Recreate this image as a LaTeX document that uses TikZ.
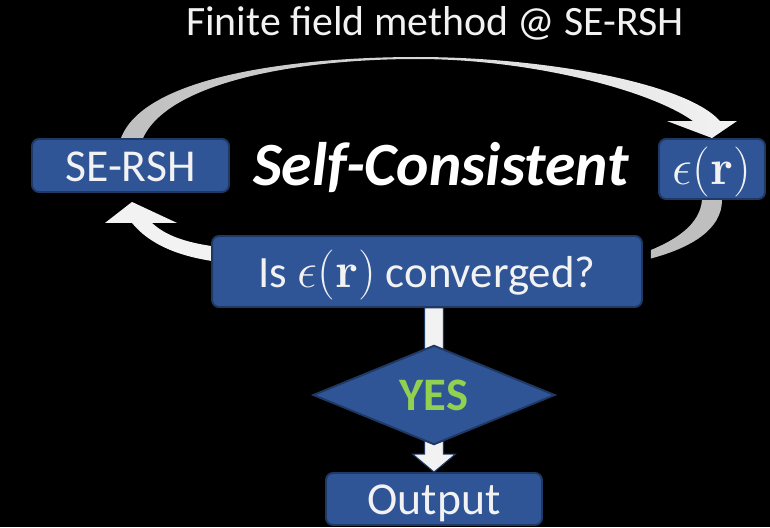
\documentclass[tikz,border=0pt]{standalone}
\usepackage[no-math]{fontspec}
\usepackage{graphicx}
\setmainfont{Carlito}
\usetikzlibrary{shapes.geometric,calc}
\definecolor{boxblue}{HTML}{2F5597}
\definecolor{boxline}{HTML}{1F3864}
\definecolor{textwhite}{HTML}{F2F2F2}
\definecolor{yesgreen}{HTML}{92D050}
\definecolor{arcgray}{HTML}{BFBFBF}
\pgfdeclarelayer{bg}
\pgfdeclarelayer{back}
\pgfsetlayers{bg,back,main}
\newcommand{\epsr}{{\fontsize{24.88}{30}\selectfont\scalebox{1.145}{$\epsilon(\mathbf{r})$}}}
\begin{document}
\begin{tikzpicture}[x=0.02cm, y=-0.02cm, line join=round,
		box/.style={draw=boxline, line width=1.1pt, fill=boxblue, rounded corners=0.14cm, inner sep=0pt, text=textwhite, text height=20pt, text depth=2pt},
		big/.style={font=\fontsize{26}{30}\selectfont}]
		\path
		(130.5,165.5) coordinate (S)
		(712,169) coordinate (E)
		(427,271.5) coordinate (C)
		(434,395) coordinate (Y)
		(434,499) coordinate (O)
		(435,36) coordinate (T)
		(441,185) coordinate (L)
		;
		\begin{pgfonlayer}{bg}
			\fill[black] (0,0) rectangle (770,527);
		\end{pgfonlayer}
		\node[anchor=base, text=textwhite, font=\fontsize{23.8}{28}\selectfont] (title) at (T) {Finite field method @ SE-RSH};
		\node[anchor=base, text=white, font=\fontsize{35}{40}\selectfont\bfseries\itshape] (self) at (L) {Self-Consistent};
		\node[box, big, minimum width=3.94cm, minimum height=1.06cm] (sersh) at (S) {SE-RSH};
		\node[box, big, minimum width=2.12cm, minimum height=1.2cm] (eps) at (E) {\epsr};
		\node[box, font=\fontsize{25.5}{30}\selectfont, minimum width=8.6cm, minimum height=1.42cm] (conv) at (C) {Is \epsr{} converged?};
		\node[box, big, minimum width=4.32cm, minimum height=1.04cm] (out) at (O) {Output};
		\begin{pgfonlayer}{back}
			\shade[left color=arcgray, right color=textwhite]
			($(sersh.north)+(-9.5,0)$) .. controls (145,75) and (300,57) .. (417,57)
			.. controls (540,57) and (685,82) .. ($(eps.north)+(8,-17)$)
			-- ($(eps.north)+(25,-17)$) -- (eps.north) -- ($(eps.north)+(-45,-17)$)
			-- ($(eps.north)+(-19,-17)$) .. controls (650,90) and (530,59) .. (417,59)
			.. controls (305,59) and (170,80) .. ($(sersh.north)+(12.5,0)$) -- cycle;
			\fill[arcgray]
			($(eps.south)+(10,0)$) .. controls (722,230) and (690,248) .. ($(conv.east)+(8,-13)$)
			-- ($(conv.east)+(8,-21.5)$) .. controls (675,240) and (700,225) .. ($(eps.south)+(-10,0)$) -- cycle;
			\fill[textwhite]
			($(conv.west)+(8,-9.5)$) .. controls (180,257) and (150,245) .. ($(sersh.south)+(1.5,30)$)
			-- ($(sersh.south)+(-25.5,30)$) -- ($(sersh.south)+(1.5,9)$) -- ($(sersh.south)+(46.5,30)$)
			-- ($(sersh.south)+(21.5,30)$) .. controls (165,235) and (185,243) .. ($(conv.west)+(8,-24.5)$) -- cycle;
			\filldraw[fill=textwhite, draw=boxline, line width=0.6pt, line join=miter]
			($(conv.south -| out.north)+(-9.5,0)$) -- ($(out.north)+(-9.5,-18)$) -- ($(out.north)+(-21.5,-18)$)
			-- (out.north) -- ($(out.north)+(21.5,-18)$) -- ($(out.north)+(9.5,-18)$)
			-- ($(conv.south -| out.north)+(9.5,0)$) -- cycle;
		\end{pgfonlayer}
		\node[shape=diamond, draw=boxline, line width=1.1pt, line join=miter, fill=boxblue, minimum width=4.84cm, minimum height=1.68cm, inner sep=0pt, text=yesgreen, font=\fontsize{26.5}{30}\selectfont\bfseries] (yes) at (Y) {YES};
	\end{tikzpicture}
\end{document}
